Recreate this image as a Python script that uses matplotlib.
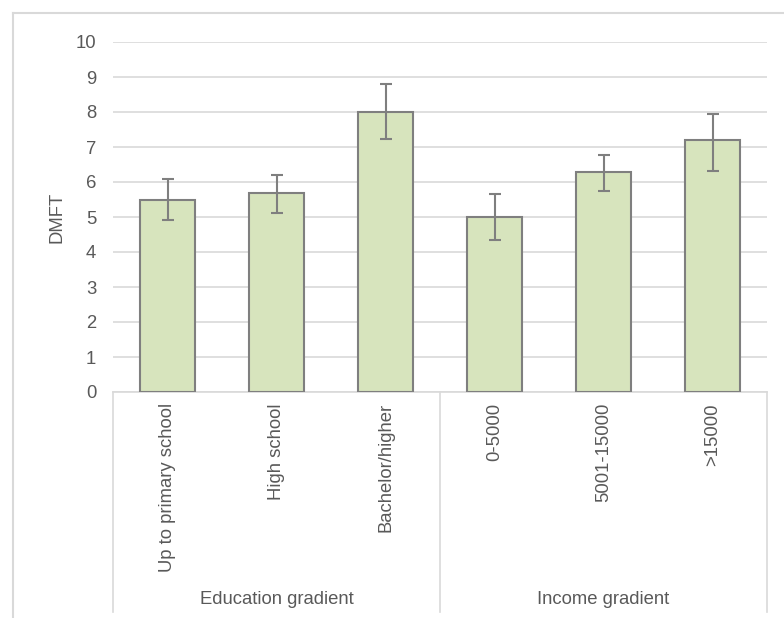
import numpy as np
import matplotlib.pyplot as plt
from matplotlib.lines import Line2D

plt.rcParams['font.family'] = ['Liberation Sans', 'DejaVu Sans']

# data
categories = ['Up to primary school', 'High school', 'Bachelor/higher',
              '0-5000', '5001-15000', '>15000']
groups = ['Education gradient', 'Income gradient']
group_sizes = [3, 3]
dmft = [5.5, 5.7, 8.0, 5.0, 6.3, 7.2]
err_low = [4.92, 5.12, 7.22, 4.35, 5.75, 6.32]
err_high = [6.08, 6.21, 8.79, 5.66, 6.77, 7.95]

txt_col = '#595959'
grid_col = '#d9d9d9'
fs = 13.3

fig = plt.figure(figsize=(7.84, 6.18), dpi=100)
ax = fig.add_axes([113 / 784, 1 - 392 / 618, 654 / 784, 350 / 618])

x = np.arange(len(categories))
vals = np.array(dmft)
yerr = np.vstack([vals - np.array(err_low), np.array(err_high) - vals])
ax.bar(x, vals, width=0.5, color='#d7e4bd', edgecolor='#7f7f7f', linewidth=1.5, zorder=3)
ax.errorbar(x, vals, yerr=yerr, fmt='none', ecolor='#7f7f7f', elinewidth=1.5,
            capsize=4, capthick=1.5, zorder=4)

ax.set_xlim(-0.5, len(categories) - 0.5)
ax.set_ylim(0, 10)
ax.set_yticks(range(0, 11))
ax.yaxis.grid(True, color=grid_col, linewidth=1.2, zorder=0)
ax.set_axisbelow(True)
for s in ['top', 'right', 'left']:
    ax.spines[s].set_visible(False)
ax.spines['bottom'].set_color(grid_col)
ax.spines['bottom'].set_linewidth(1.2)
ax.tick_params(axis='y', length=0, pad=12, labelsize=fs, labelcolor=txt_col)
ax.tick_params(axis='x', length=0, pad=8, labelsize=fs, labelcolor=txt_col)
ax.set_xticks(x)
ax.set_xticklabels(categories, rotation=90)
ax.set_ylabel('DMFT', fontsize=fs, color=txt_col, labelpad=7)

# category group box below the axis
trans = ax.get_xaxis_transform()
box_bottom = -(612 - 392) / 350
edges = [-0.5]
for n in group_sizes:
    edges.append(edges[-1] + n)
for e in edges:
    ax.plot([e, e], [0, box_bottom], transform=trans, color=grid_col,
            linewidth=1.2, clip_on=False)
for i, g in enumerate(groups):
    mid = (edges[i] + edges[i + 1]) / 2
    ax.text(mid, -(600 - 392) / 350, g, transform=trans, ha='center', va='center',
            fontsize=fs, color=txt_col)

# outer chart border (cropped at right and bottom)
bx, by = 13 / 784, 1 - 13 / 618
fig.add_artist(Line2D([bx, bx], [by, 0], transform=fig.transFigure, color=grid_col, linewidth=1.5))
fig.add_artist(Line2D([bx, 1], [by, by], transform=fig.transFigure, color=grid_col, linewidth=1.5))

fig.savefig('out.png', dpi=100)
